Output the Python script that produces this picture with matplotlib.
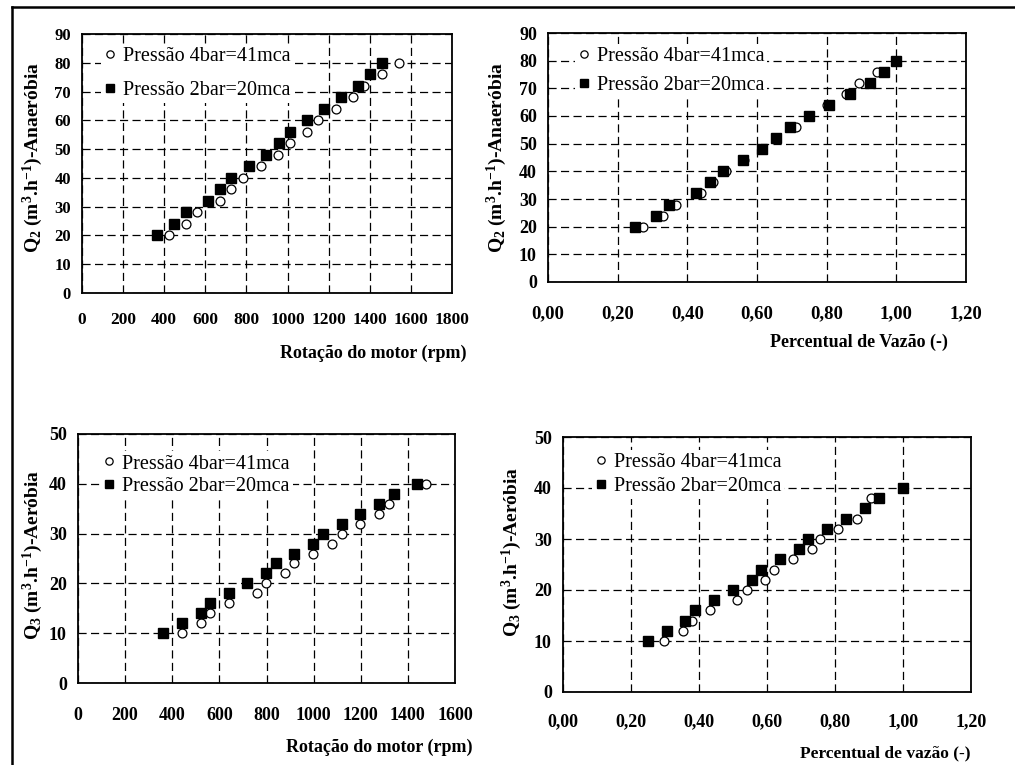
import matplotlib
matplotlib.use("Agg")
import matplotlib.pyplot as plt
from matplotlib.lines import Line2D

plt.rcParams['font.family'] = ['Liberation Serif', 'DejaVu Serif']
plt.rcParams['mathtext.fontset'] = 'custom'
plt.rcParams['mathtext.rm'] = 'Liberation Serif:bold'
plt.rcParams['mathtext.it'] = 'Liberation Serif:bold'
plt.rcParams['mathtext.bf'] = 'Liberation Serif:bold'

LBL_4BAR = "Pressão 4bar=41mca"
LBL_2BAR = "Pressão 2bar=20mca"

# Q2 (anaerobic) values, shared by both top panels
q2_4bar = [20, 24, 28, 32, 36, 40, 44, 48, 52, 56, 60, 64, 68, 72, 76, 80]
q2_2bar = [20, 24, 28, 32, 36, 40, 44, 48, 52, 56, 60, 64, 68, 72, 76, 80]
rpm_q2_4bar = [422, 505, 560, 671, 727, 783, 869, 953, 1010, 1095, 1149, 1235, 1317, 1374, 1460, 1540]
rpm_q2_2bar = [364, 448, 505, 615, 671, 727, 814, 896, 956, 1010, 1095, 1178, 1260, 1345, 1401, 1460]
pct_q2_4bar = [0.273, 0.329, 0.367, 0.440, 0.475, 0.510, 0.564, 0.615, 0.655, 0.711, 0.750, 0.801, 0.855, 0.893, 0.944, 1.00]
pct_q2_2bar = [0.251, 0.310, 0.348, 0.425, 0.465, 0.502, 0.559, 0.615, 0.655, 0.694, 0.750, 0.807, 0.866, 0.924, 0.964, 1.00]

# Q3 (aerobic) values, shared by both bottom panels
q3_4bar = [10, 12, 14, 16, 18, 20, 22, 24, 26, 28, 30, 32, 34, 36, 38, 40]
q3_2bar = [10, 12, 14, 16, 18, 20, 22, 24, 26, 28, 30, 32, 34, 36, 38, 40]
rpm_q3_4bar = [440, 520, 559, 640, 759, 798, 878, 918, 998, 1079, 1120, 1198, 1278, 1318, 1342, 1478]
rpm_q3_2bar = [361, 440, 520, 559, 640, 719, 798, 839, 918, 998, 1039, 1120, 1198, 1278, 1342, 1438]
pct_q3_4bar = [0.298, 0.352, 0.379, 0.433, 0.513, 0.540, 0.595, 0.622, 0.676, 0.731, 0.756, 0.810, 0.865, 0.889, 0.907, 1.00]
pct_q3_2bar = [0.251, 0.305, 0.359, 0.389, 0.444, 0.500, 0.555, 0.583, 0.639, 0.693, 0.721, 0.777, 0.832, 0.887, 0.930, 1.00]

pct_ticks = [0.0, 0.2, 0.4, 0.6, 0.8, 1.0, 1.2]
pct_tick_labels = ["0,00", "0,20", "0,40", "0,60", "0,80", "1,00", "1,20"]

YLAB_Q2 = r"Q$_2$ (m$^3$.h$^{-1}$)-Anaeróbia"
YLAB_Q3 = r"Q$_3$ (m$^3$.h$^{-1}$)-Aeróbia"

W, H = 1015, 765
fig = plt.figure(figsize=(W / 100, H / 100), dpi=100)
fig.patch.set_facecolor('white')

# outer frame (left and top edges only are visible)
fig.add_artist(Line2D([12 / W, 12 / W], [0, 1 - 7 / H], color='black', lw=1.8))
fig.add_artist(Line2D([12 / W, 1], [1 - 7 / H, 1 - 7 / H], color='black', lw=1.8))


def px_axes(l, t, r, b):
    return fig.add_axes([l / W, 1 - b / H, (r - l) / W, (b - t) / H])


def px_text(x, y, s, **kw):
    fig.text(x / W, 1 - y / H, s, fontweight='bold', **kw)


def style_axes(ax, xlim, xticks, ylim, yticks, xticklabels=None,
               xsize=13, ysize=12.5, xpad=16):
    ax.set_xlim(*xlim)
    ax.set_ylim(*ylim)
    ax.set_xticks(xticks)
    ax.set_yticks(yticks)
    if xticklabels is not None:
        ax.set_xticklabels(xticklabels)
    ax.grid(True, color='black', linestyle=(0, (6.5, 3.5)), linewidth=0.9)
    ax.set_axisbelow(True)
    ax.tick_params(length=0)
    ax.tick_params(axis='x', pad=xpad, labelsize=xsize)
    ax.tick_params(axis='y', pad=8, labelsize=ysize)
    for lab in ax.get_xticklabels() + ax.get_yticklabels():
        lab.set_fontweight('bold')
    for sp in ax.spines.values():
        sp.set_linewidth(1.3)


def draw_panel(ax, x4, y4, x2, y2, legend_xy, legend_sp):
    ax.plot(x4, y4, linestyle='none', marker='o', ms=6.4, mfc='white',
            mec='black', mew=0.9, label=LBL_4BAR, zorder=3)
    ax.plot(x2, y2, linestyle='none', marker='s', ms=6.8, mfc='black',
            mec='black', label=LBL_2BAR, zorder=4)
    leg = ax.legend(loc='upper left', bbox_to_anchor=legend_xy, fontsize=14.5,
                    frameon=True, facecolor='white', edgecolor='none', framealpha=1,
                    handlelength=0.6, handletextpad=0.35, borderpad=0.15,
                    borderaxespad=0, labelspacing=legend_sp, markerscale=0.82,
                    fancybox=False)
    leg.set_zorder(2.5)


# top-left: rpm vs Q2
ax1 = px_axes(82, 34, 452, 293)
draw_panel(ax1, rpm_q2_4bar, q2_4bar, rpm_q2_2bar, q2_2bar, (0.05, 0.96), 0.74)
style_axes(ax1, (0, 1800), range(0, 1801, 200), (0, 90), range(0, 91, 10),
           xsize=12.5, ysize=12, xpad=14)
px_text(33, 157, YLAB_Q2, fontsize=14, rotation=90, ha='center', va='center')
px_text(467, 353, "Rotação do motor (rpm)", fontsize=13, ha='right', va='center')

# top-right: percent vs Q2
ax2 = px_axes(548, 33, 966, 282)
draw_panel(ax2, pct_q2_4bar, q2_4bar, pct_q2_2bar, q2_2bar, (0.064, 0.956), 0.49)
style_axes(ax2, (0, 1.2), pct_ticks, (0, 90), range(0, 91, 10), pct_tick_labels,
           xsize=13.5, ysize=13, xpad=17)
px_text(497, 157, YLAB_Q2, fontsize=14, rotation=90, ha='center', va='center')
px_text(948, 342, "Percentual de Vazão (-)", fontsize=13, ha='right', va='center')

# bottom-left: rpm vs Q3
ax3 = px_axes(78, 434, 455, 683)
draw_panel(ax3, rpm_q3_4bar, q3_4bar, rpm_q3_2bar, q3_2bar, (0.058, 0.93), 0.19)
style_axes(ax3, (0, 1600), range(0, 1601, 200), (0, 50), range(0, 51, 10),
           xsize=13, ysize=13, xpad=17)
px_text(33, 555, YLAB_Q3, fontsize=14, rotation=90, ha='center', va='center')
px_text(473, 747, "Rotação do motor (rpm)", fontsize=13, ha='right', va='center')

# bottom-right: percent vs Q3
ax4 = px_axes(563, 437, 971, 692)
draw_panel(ax4, pct_q3_4bar, q3_4bar, pct_q3_2bar, q3_2bar, (0.07, 0.948), 0.24)
style_axes(ax4, (0, 1.2), pct_ticks, (0, 50), range(0, 51, 10), pct_tick_labels,
           xsize=13, ysize=13, xpad=15)
px_text(512, 552, YLAB_Q3, fontsize=14, rotation=90, ha='center', va='center')
px_text(971, 753, "Percentual de vazão (-)", fontsize=12.5, ha='right', va='center')

fig.savefig("out.png", dpi=100)
